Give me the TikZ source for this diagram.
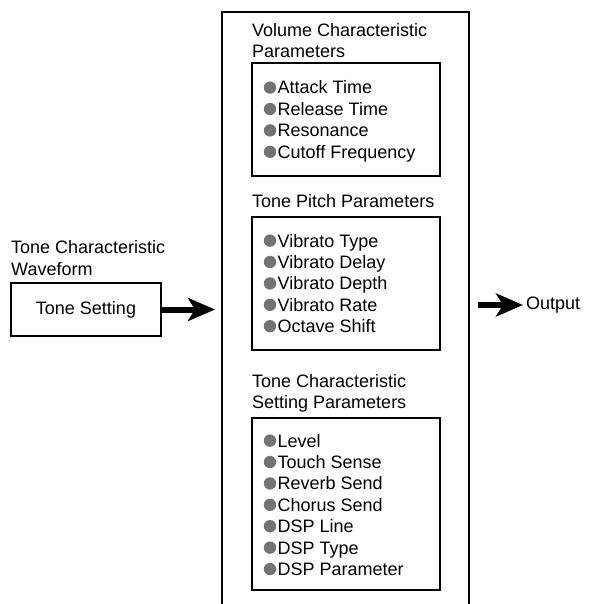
\documentclass[tikz,border=0pt]{standalone}
\usepackage{fontspec}
\setmainfont{Liberation Sans}
\usetikzlibrary{arrows.meta}
\definecolor{dotgray}{gray}{0.45}

\begin{document}
\begin{tikzpicture}[x=1pt, y=-1pt, font=\fontsize{18}{21.5}\selectfont,
  lbl/.style={anchor=base west, inner sep=0pt},
  frame/.style={line width=1.5pt},
  fat/.style={line width=6pt, -{Stealth[length=27pt, width=23pt, inset=7pt]}}]
  \useasboundingbox (0,0) rectangle (590,604);
  \pgfmathsetmacro{\dy}{21.4}

  % outer parameter block, open at the bottom
  \draw[line width=2.5pt] (222,610) -- (222,12) -- (469,12) -- (469,610);

  % input side
  \node[lbl] (waveA) at (11,253) {Tone Characteristic};
  \node[lbl] (waveB) at (11,275) {Waveform};
  \node[draw, line width=1.2pt, minimum width=150pt, minimum height=53pt] (tone) at (86,309.5) {Tone Setting};
  \coordinate (inL) at (215,309.5);
  \draw[fat] (tone.east) -- (inL);

  % volume
  \node[lbl] (volA) at (252,36.5) {Volume Characteristic};
  \node[lbl] (volB) at (252,57.5) {Parameters};
  \draw[frame] (252,63) rectangle (440,176);
  \foreach \t [count=\i] in {Attack Time, Release Time, Resonance, Cutoff Frequency} {
    \fill[dotgray] (270,{94+\dy*(\i-1)-6.4}) circle (6.2);
    \node[lbl] (vol\i) at (277.5,{94+\dy*(\i-1)}) {\t};
  }

  % pitch
  \node[lbl] (pit) at (252,207) {Tone Pitch Parameters};
  \draw[frame] (252,217) rectangle (440,350);
  \foreach \t [count=\i] in {Vibrato Type, Vibrato Delay, Vibrato Depth, Vibrato Rate, Octave Shift} {
    \fill[dotgray] (270,{247+\dy*(\i-1)-6.4}) circle (6.2);
    \node[lbl] (pit\i) at (277.5,{247+\dy*(\i-1)}) {\t};
  }

  % setting
  \node[lbl] (setA) at (252,387) {Tone Characteristic};
  \node[lbl] (setB) at (252,408) {Setting Parameters};
  \draw[frame] (252,418) rectangle (440,590);
  \foreach \t [count=\i] in {Level, Touch Sense, Reverb Send, Chorus Send, DSP Line, DSP Type, DSP Parameter} {
    \fill[dotgray] (270,{447+\dy*(\i-1)-6.4}) circle (6.2);
    \node[lbl] (set\i) at (277.5,{447+\dy*(\i-1)}) {\t};
  }

  % output side
  \node[anchor=west, inner sep=3pt] (out) at (523,305) {Output};
  \coordinate (outL) at (478,305);
  \draw[fat] (outL) -- (out.west);
\end{tikzpicture}
\end{document}
